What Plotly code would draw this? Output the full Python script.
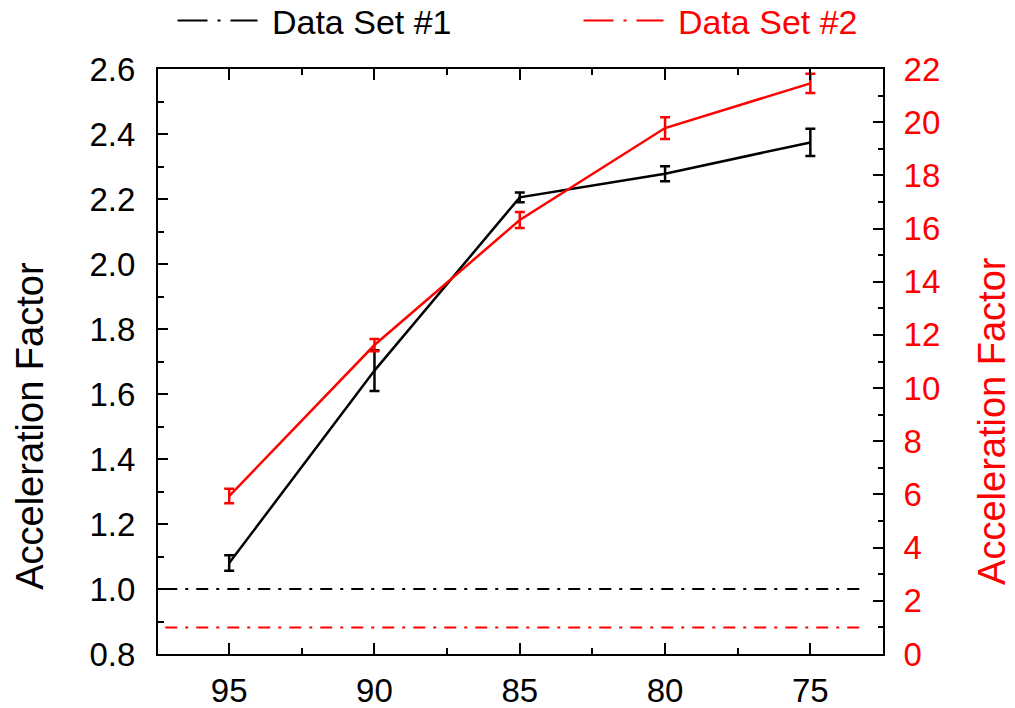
import plotly.graph_objects as go

# ---------------- data ----------------
temperature = [95, 90, 85, 80, 75]
af_set1 = [1.08, 1.672, 2.205, 2.278, 2.374]
af_set1_err = [0.024, 0.063, 0.015, 0.023, 0.042]
af_set2 = [5.94, 11.62, 16.32, 19.78, 21.46]
af_set2_err = [0.27, 0.23, 0.30, 0.41, 0.36]
reference_level_set1 = 1.0
reference_level_set2 = 1.0
x_tick_values = [95, 90, 85, 80, 75]
series_names = ["Data Set #1", "Data Set #2"]
axis_title = "Acceleration Factor"

BLACK = "#000000"
RED = "#ff0000"
FONT = "Liberation Sans, Arial, sans-serif"

fig = go.Figure()

fig.add_trace(go.Scatter(
    x=temperature, y=af_set1, mode="lines",
    line=dict(color=BLACK, width=2.5),
    error_y=dict(type="data", array=af_set1_err, color=BLACK, thickness=2.5, width=5),
    showlegend=False, yaxis="y"))

fig.add_trace(go.Scatter(
    x=temperature, y=af_set2, mode="lines",
    line=dict(color=RED, width=2.5),
    error_y=dict(type="data", array=af_set2_err, color=RED, thickness=2.5, width=5),
    showlegend=False, yaxis="y2"))

# legend-only entries (dash-dot samples)
fig.add_trace(go.Scatter(
    x=[None], y=[None], mode="lines", name=" " + series_names[0],
    line=dict(color=BLACK, width=2, dash="30px,10px,3px,10px"),
    legend="legend", yaxis="y"))
fig.add_trace(go.Scatter(
    x=[None], y=[None], mode="lines", name=" " + series_names[1],
    line=dict(color=RED, width=2, dash="30px,10px,3px,10px"),
    legend="legend2", yaxis="y2"))

# reference dash-dot lines
fig.add_shape(type="line", xref="x domain", x0=0.01, x1=0.978, yref="y",
              y0=reference_level_set1, y1=reference_level_set1,
              line=dict(color=BLACK, width=2, dash="12px,8px,3px,8px"))
fig.add_shape(type="line", xref="x domain", x0=0.01, x1=0.978, yref="y2",
              y0=reference_level_set2, y1=reference_level_set2,
              line=dict(color=RED, width=2, dash="12px,8px,3px,8px"))

# axis titles (placed lower than centre, as in the reference)
fig.add_annotation(text=axis_title, textangle=-90, xref="paper", yref="paper",
                   x=-0.1766, y=0.39, xanchor="center", yanchor="middle",
                   showarrow=False, font=dict(size=38, color=BLACK))
fig.add_annotation(text=axis_title, textangle=-90, xref="paper", yref="paper",
                   x=1.150, y=0.398, xanchor="center", yanchor="middle",
                   showarrow=False, font=dict(size=38, color=RED))

fig.update_layout(
    width=1015, height=708,
    margin=dict(l=158, r=132, t=69, b=54, autoexpand=False),
    paper_bgcolor="white", plot_bgcolor="white",
    font=dict(family=FONT, size=33, color=BLACK),
    xaxis=dict(
        range=[97.45, 72.5], tickvals=x_tick_values,
        ticks="inside", ticklen=11, tickwidth=2, tickcolor=BLACK,
        minor=dict(dtick=2.5, tick0=75, ticks="inside", ticklen=6, tickwidth=2, tickcolor=BLACK),
        showline=True, linecolor=BLACK, linewidth=2, mirror="ticks",
        showgrid=False, zeroline=False, automargin=False,
        tickfont=dict(size=33, color=BLACK), ticklabelstandoff=6),
    yaxis=dict(
        range=[0.8, 2.6], dtick=0.2, tick0=0.8, tickformat=".1f",
        ticks="inside", ticklen=10, tickwidth=2, tickcolor=BLACK,
        minor=dict(dtick=0.1, ticks="inside", ticklen=6, tickwidth=2, tickcolor=BLACK),
        showline=True, linecolor=BLACK, linewidth=2,
        showgrid=False, zeroline=False, automargin=False,
        tickfont=dict(size=33, color=BLACK), ticklabelstandoff=14),
    yaxis2=dict(
        overlaying="y", side="right",
        range=[0, 22], dtick=2, tick0=0,
        ticks="inside", ticklen=10, tickwidth=2, tickcolor=BLACK,
        minor=dict(dtick=1, ticks="inside", ticklen=5, tickwidth=2, tickcolor=BLACK),
        showline=True, linecolor=BLACK, linewidth=2,
        showgrid=False, zeroline=False, automargin=False,
        tickfont=dict(size=33, color=RED), ticklabelstandoff=12),
    legend=dict(x=0.02, y=1.132, xanchor="left", yanchor="top",
                bgcolor="rgba(0,0,0,0)", font=dict(size=34, color=BLACK),
                itemwidth=80),
    legend2=dict(x=0.58, y=1.132, xanchor="left", yanchor="top",
                 bgcolor="rgba(0,0,0,0)", font=dict(size=34, color=RED),
                 itemwidth=80),
)

fig.write_html("out.html")
